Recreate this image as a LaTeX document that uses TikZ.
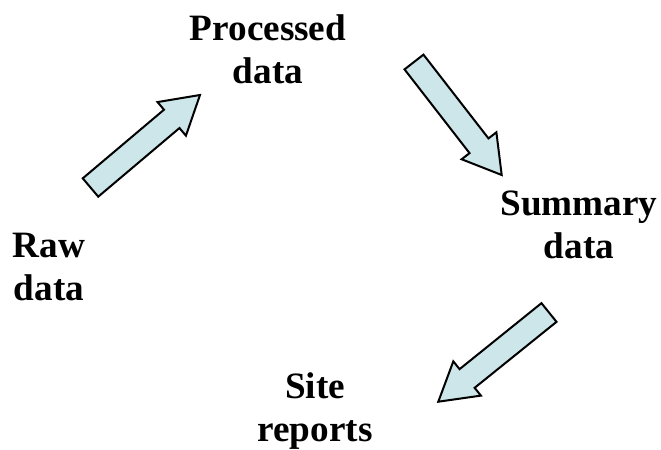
\documentclass[tikz,border=0pt]{standalone}
\usepackage{fontspec}
\setmainfont{Liberation Serif}
\usepackage{xcolor}
\definecolor{cFill}{HTML}{CCE6EA}
\usetikzlibrary{calc}
\tikzset{
  node-label/.style={align=center,inner sep=0pt,
    font=\fontsize{18.6}{21.3}\selectfont\bfseries},
  arrow-block/.style={draw=black,line width=1pt,fill=cFill,line join=miter},
}

\begin{document}
\begin{tikzpicture}[x=0.5pt,y=-0.5pt]
  \useasboundingbox (0,0) rectangle (661,450);
  % labels
  \node[node-label] (raw) at (49,267) {Raw\\data};
  \node[node-label] (processed) at (268,49) {Processed\\data};
  \node[node-label] (summary) at (579,225) {Summary\\data};
  \node[node-label] (site) at (315,411) {Site\\reports};
  % block arrows between the labels
  \coordinate (raw-tail) at (90.5,187.5);
  \coordinate (raw-tip) at (200,95);
  \coordinate (processed-tail) at (414,62);
  \coordinate (processed-tip) at (501.7,175);
  \coordinate (summary-tail) at (549,312.5);
  \coordinate (summary-tip) at (438.3,401.7);
  \foreach \from/\to in {raw-tail/raw-tip,processed-tail/processed-tip,summary-tail/summary-tip}{
    \coordinate (base) at ($(\to)!18.5pt!(\from)$);
    \draw[arrow-block] ($(\from)!6pt!90:(\to)$) -- ($(base)!6pt!90:(\to)$)
      -- ($(base)!11pt!90:(\to)$) -- (\to) -- ($(base)!11pt!-90:(\to)$)
      -- ($(base)!6pt!-90:(\to)$) -- ($(\from)!6pt!-90:(\to)$) -- cycle;
  }
\end{tikzpicture}
\end{document}
